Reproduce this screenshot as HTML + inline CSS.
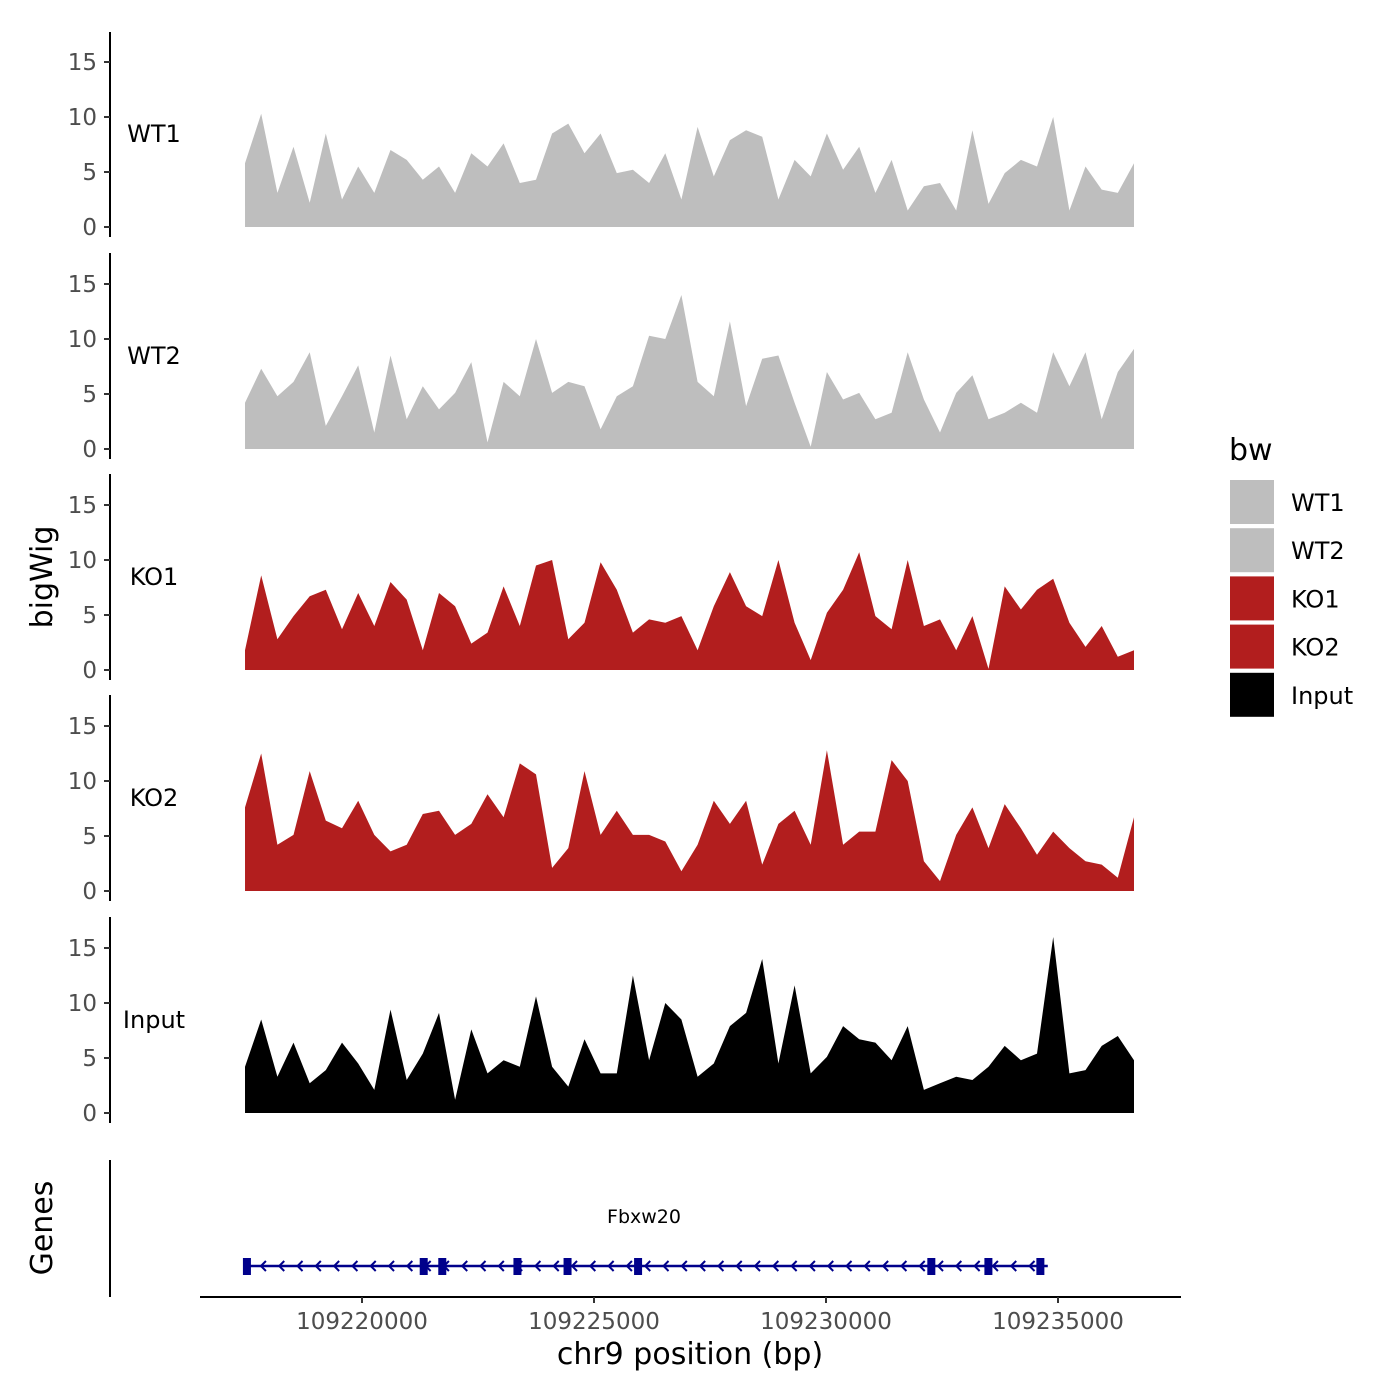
<!DOCTYPE html>
<html><head><meta charset="utf-8"><style>
body{margin:0;background:#fff}
svg{display:block;font-family:"DejaVu Sans","Liberation Sans",sans-serif}
</style></head><body>
<svg id="chart" width="1400" height="1400" viewBox="0 0 1400 1400"></svg>
<script>
const trackNames = ["WT1","WT2","KO1","KO2","Input"];
const trackColors = ["#BEBEBE","#BEBEBE","#B21E1E","#B21E1E","#000000"];
const wt1 = [5.8,10.3,3.1,7.3,2.2,8.5,2.5,5.5,3.1,7,6.1,4.3,5.5,3.1,6.7,5.5,7.6,4,4.3,8.5,9.4,6.7,8.5,4.9,5.2,4,6.7,2.5,9.1,4.6,7.9,8.8,8.2,2.5,6.1,4.6,8.5,5.2,7.3,3.1,6.1,1.5,3.7,4,1.5,8.8,2.1,4.9,6.1,5.5,10,1.5,5.5,3.4,3.1,5.8];
const wt2 = [4.2,7.3,4.8,6.1,8.8,2.1,4.8,7.6,1.5,8.5,2.7,5.7,3.6,5.1,7.9,0.6,6.1,4.8,10,5.1,6.1,5.7,1.8,4.8,5.7,10.3,10,14,6.1,4.8,11.6,3.9,8.2,8.5,4.2,0.2,7,4.5,5.1,2.7,3.3,8.8,4.5,1.5,5.1,6.7,2.7,3.3,4.2,3.3,8.8,5.7,8.8,2.7,7,9.1];
const ko1 = [1.8,8.6,2.8,4.9,6.7,7.3,3.7,7,4,8,6.4,1.8,7,5.8,2.4,3.4,7.6,4,9.5,10,2.8,4.3,9.8,7.3,3.4,4.6,4.3,4.9,1.8,5.8,8.9,5.8,4.9,10,4.3,0.9,5.2,7.3,10.7,4.9,3.7,10,4,4.6,1.8,4.9,0.1,7.6,5.5,7.3,8.3,4.3,2.1,4,1.2,1.8];
const ko2 = [7.6,12.5,4.2,5.1,10.9,6.4,5.7,8.2,5.1,3.6,4.2,7,7.3,5.1,6.1,8.8,6.7,11.6,10.6,2.1,3.9,10.9,5.1,7.3,5.1,5.1,4.5,1.8,4.2,8.2,6.1,8.2,2.4,6.1,7.3,4.2,12.8,4.2,5.4,5.4,11.9,10,2.7,0.9,5.1,7.6,3.9,7.9,5.7,3.3,5.4,3.9,2.7,2.4,1.2,6.7];
const input = [4.2,8.5,3.3,6.4,2.7,3.9,6.4,4.5,2.1,9.4,3,5.4,9.1,1.2,7.6,3.6,4.8,4.2,10.6,4.2,2.4,6.7,3.6,3.6,12.5,4.8,10,8.5,3.3,4.5,7.9,9.1,14,4.5,11.6,3.6,5.1,7.9,6.7,6.4,4.8,7.9,2.1,2.7,3.3,3,4.2,6.1,4.8,5.4,16,3.6,3.9,6.1,7,4.8];
const yTicks = [0,5,10,15];
const xTicks = [109220000,109225000,109230000,109235000];
const exonStarts = [109217520,109221330,109221730,109223350,109224430,109225950,109232270,109233500,109234620];
const geneName = "Fbxw20";

const svg = document.getElementById('chart');
const NS = 'http://www.w3.org/2000/svg';
function mk(tag, attrs, parent){const e=document.createElementNS(NS,tag);for(const k in attrs)e.setAttribute(k,attrs[k]);(parent||svg).appendChild(e);return e;}
const bpStart = 109217479, bpEnd = 109236638;
function xs(bp){return 362 + (bp-109220000)*696/15000;}
const panelZero = [227,449,670,891,1113];
const panelTop = [32,253,474,695,917];
function ys(p,v){return panelZero[p] - v*11;}
const series = [wt1,wt2,ko1,ko2,input];

series.forEach((vals,p)=>{
  const n = vals.length, step=(bpEnd-bpStart)/(n-1);
  let d = 'M'+xs(bpStart)+','+panelZero[p];
  vals.forEach((v,i)=>{d+=' L'+xs(bpStart+i*step).toFixed(1)+','+ys(p,v).toFixed(1);});
  d += ' L'+xs(bpEnd)+','+panelZero[p]+' Z';
  const a = mk('path',{d:d,fill:trackColors[p]});
  
  
  const ax = mk('line',{x1:110,x2:110,y1:panelTop[p],y2:panelZero[p]+10,stroke:'#000','stroke-width':2});
  
  
  yTicks.forEach(t=>{
    mk('line',{x1:104,x2:110,y1:ys(p,t),y2:ys(p,t),stroke:'#333','stroke-width':2});
    const tl = mk('text',{x:97,y:ys(p,t)+8,'text-anchor':'end','font-size':23,fill:'#4d4d4d'});
    tl.textContent = t;
    
    
  });
  const lb = mk('text',{x:154,y:panelZero[p]-85,'text-anchor':'middle','font-size':24,fill:'#000'});
  lb.textContent = trackNames[p];
  
  
});

const yl = mk('text',{x:0,y:0,transform:'translate(52,577) rotate(-90)','text-anchor':'middle','font-size':30});
yl.textContent='bigWig';


const gl = mk('text',{x:0,y:0,transform:'translate(52,1228) rotate(-90)','text-anchor':'middle','font-size':30});
gl.textContent='Genes';



mk('line',{x1:110,x2:110,y1:1160,y2:1297,stroke:'#000','stroke-width':2});
const xa = mk('line',{x1:200,x2:1181,y1:1297,y2:1297,stroke:'#000','stroke-width':2});


xTicks.forEach(t=>{
  mk('line',{x1:xs(t),x2:xs(t),y1:1297,y2:1303,stroke:'#333','stroke-width':2});
  const tl = mk('text',{x:xs(t),y:1329,'text-anchor':'middle','font-size':23,fill:'#4d4d4d'});
  tl.textContent=t;
  
  
});
const xt = mk('text',{x:690,y:1364,'text-anchor':'middle','font-size':30});
xt.textContent='chr9 position (bp)';



const g = mk('g',{});


const gx1 = xs(exonStarts[0]), gx2 = xs(109234780);
mk('line',{x1:gx1,x2:gx2,y1:1266,y2:1266,stroke:'#00008B','stroke-width':2.5},g);
for(let x=gx1+14;x<gx2-6;x+=18.3){
  mk('path',{d:`M${x+5},1261 L${x},1266 L${x+5},1271`,fill:'none',stroke:'#00008B','stroke-width':2},g);
}
exonStarts.forEach(s=>{
  const e = mk('rect',{x:xs(s)-4,y:1258,width:8,height:17,fill:'#00008B'},g);
  
  
});
const gn = mk('text',{x:644,y:1223,'text-anchor':'middle','font-size':19},g);
gn.textContent=geneName;

const lg = mk('g',{});


const lt = mk('text',{x:1229,y:460,'font-size':30},lg);
lt.textContent='bw';
trackNames.forEach((n,i)=>{
  const y0 = 480+i*48.2;
  const r = mk('rect',{x:1230,y:y0,width:44,height:44,fill:trackColors[i]},lg);
  
  
  const t = mk('text',{x:1291,y:y0+31,'font-size':24},lg);
  t.textContent=n;
  
  
});
</script>
</body></html>
